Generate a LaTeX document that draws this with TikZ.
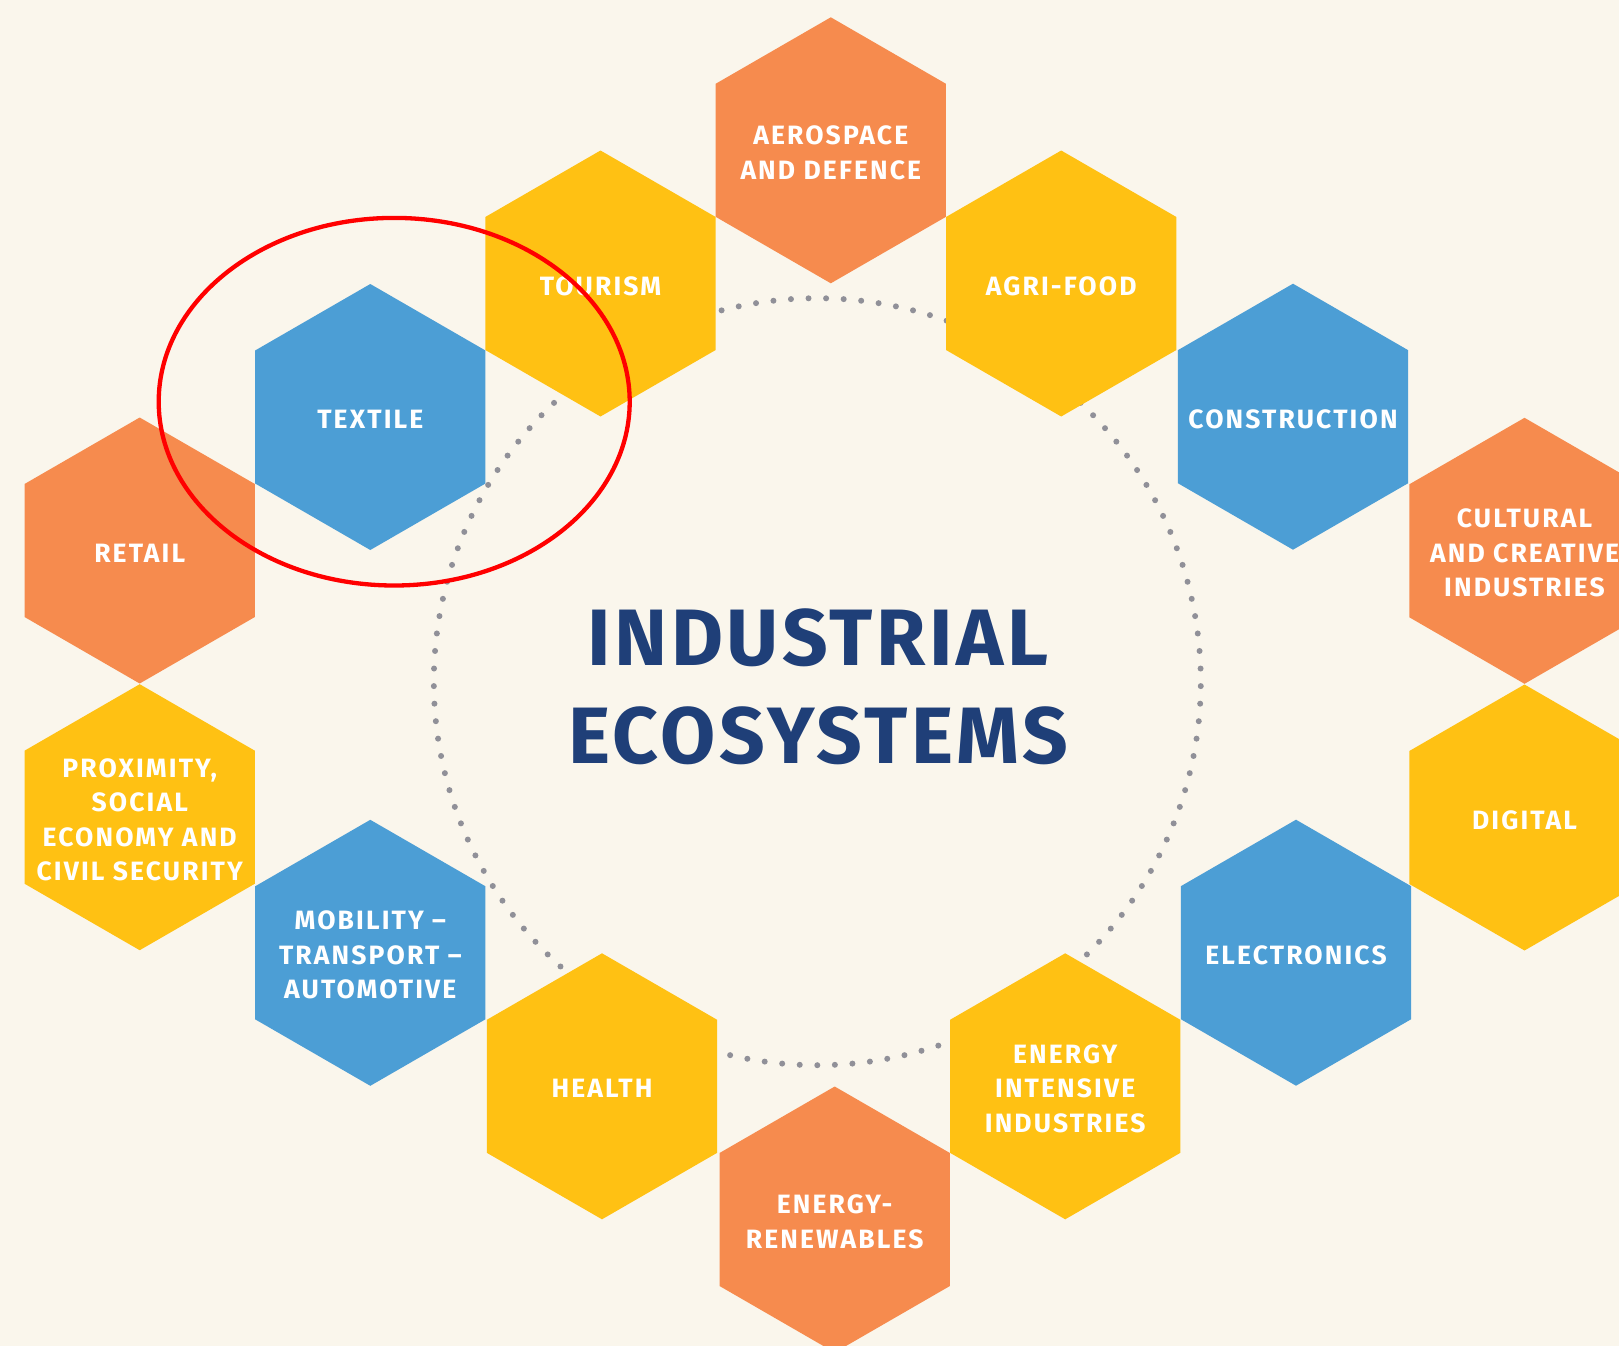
\documentclass[tikz,border=0pt]{standalone}
\usepackage{fontspec}
\setmainfont{Fira Sans}
\newfontfamily\labelfont[LetterSpace=8]{Fira Sans}
\newfontfamily\titlefont[LetterSpace=4.5]{Fira Sans}

\definecolor{paper}{HTML}{FAF6EC}
\definecolor{hexorange}{HTML}{F68B4E}
\definecolor{hexyellow}{HTML}{FFC113}
\definecolor{hexblue}{HTML}{4C9ED5}
\definecolor{titleblue}{HTML}{1F3F78}
\definecolor{dotgray}{HTML}{909098}
\definecolor{markred}{HTML}{FF0000}

% one pointy-top hexagon (circumradius 133) with its centred label
% #1 name, #2 x, #3 y, #4 colour, #5 text
\newcommand\hexcell[5]{%
  \fill[#4] (#2,#3) +(0,-133) -- +(115.18,-66.5) -- +(115.18,66.5)
    -- +(0,133) -- +(-115.18,66.5) -- +(-115.18,-66.5) -- cycle;
  \node[lbl] (#1) at (#2,#3) {#5};
}

\begin{document}
\begin{tikzpicture}[x=1pt,y=-1pt,
  lbl/.style={text=white, align=center, inner sep=0pt, yshift=-2.5pt,
    font=\labelfont\bfseries\fontsize{26.5}{34.5}\selectfont},
  headline/.style={text=titleblue, align=center, inner sep=0pt,
    font=\titlefont\bfseries\fontsize{80}{98.5}\selectfont},
  ringdot/.style={fill=dotgray},
  highlight/.style={markred, line width=4.3pt}]

\useasboundingbox (0,0) rectangle (1619,1346);
\clip (0,0) rectangle (1619,1346);
\fill[paper] (0,0) rectangle (1619,1346);

% dotted ring behind the cells: 137 dots (2.62774 degrees apart) on radius 383.5
\coordinate (ring) at (817.3,681.7);
\foreach \k in {0,...,136}
  \fill[ringdot] (ring) ++(90+\k*2.62774:383.5) circle [radius=3pt];

% ring of ecosystem cells
\hexcell{aero}{830.8}{150.3}{hexorange}{AEROSPACE\\AND DEFENCE}
\hexcell{tourism}{600.5}{283.5}{hexyellow}{TOURISM}
\hexcell{agri}{1061.2}{283.5}{hexyellow}{AGRI-FOOD}
\hexcell{textile}{370.3}{417}{hexblue}{TEXTILE}
\hexcell{construction}{1293}{416.7}{hexblue}{CONSTRUCTION}
\hexcell{retail}{139.7}{550.5}{hexorange}{RETAIL}
\hexcell{cultural}{1524.5}{550.8}{hexorange}{CULTURAL\\AND CREATIVE\\INDUSTRIES}
\hexcell{proximity}{139.7}{817.2}{hexyellow}{PROXIMITY,\\SOCIAL\\ECONOMY AND\\CIVIL SECURITY}
\hexcell{digital}{1524.5}{817.5}{hexyellow}{DIGITAL}
\hexcell{mobility}{370.3}{952.8}{hexblue}{MOBILITY –\\TRANSPORT –\\AUTOMOTIVE}
\hexcell{electronics}{1296}{952.7}{hexblue}{ELECTRONICS}
\hexcell{health}{602}{1086.3}{hexyellow}{HEALTH}
\hexcell{energyint}{1065.2}{1086.3}{hexyellow}{ENERGY\\INTENSIVE\\INDUSTRIES}
\hexcell{renewables}{834.7}{1219.5}{hexorange}{ENERGY-\\RENEWABLES}

% central title
\node[headline] (title) at (818,687) {INDUSTRIAL\\ECOSYSTEMS};

% red outline around the textile cell
\coordinate (markc) at (394.2,401.7);
\draw[highlight] (markc) ellipse [x radius=235.5pt, y radius=183.8pt];

\end{tikzpicture}
\end{document}
